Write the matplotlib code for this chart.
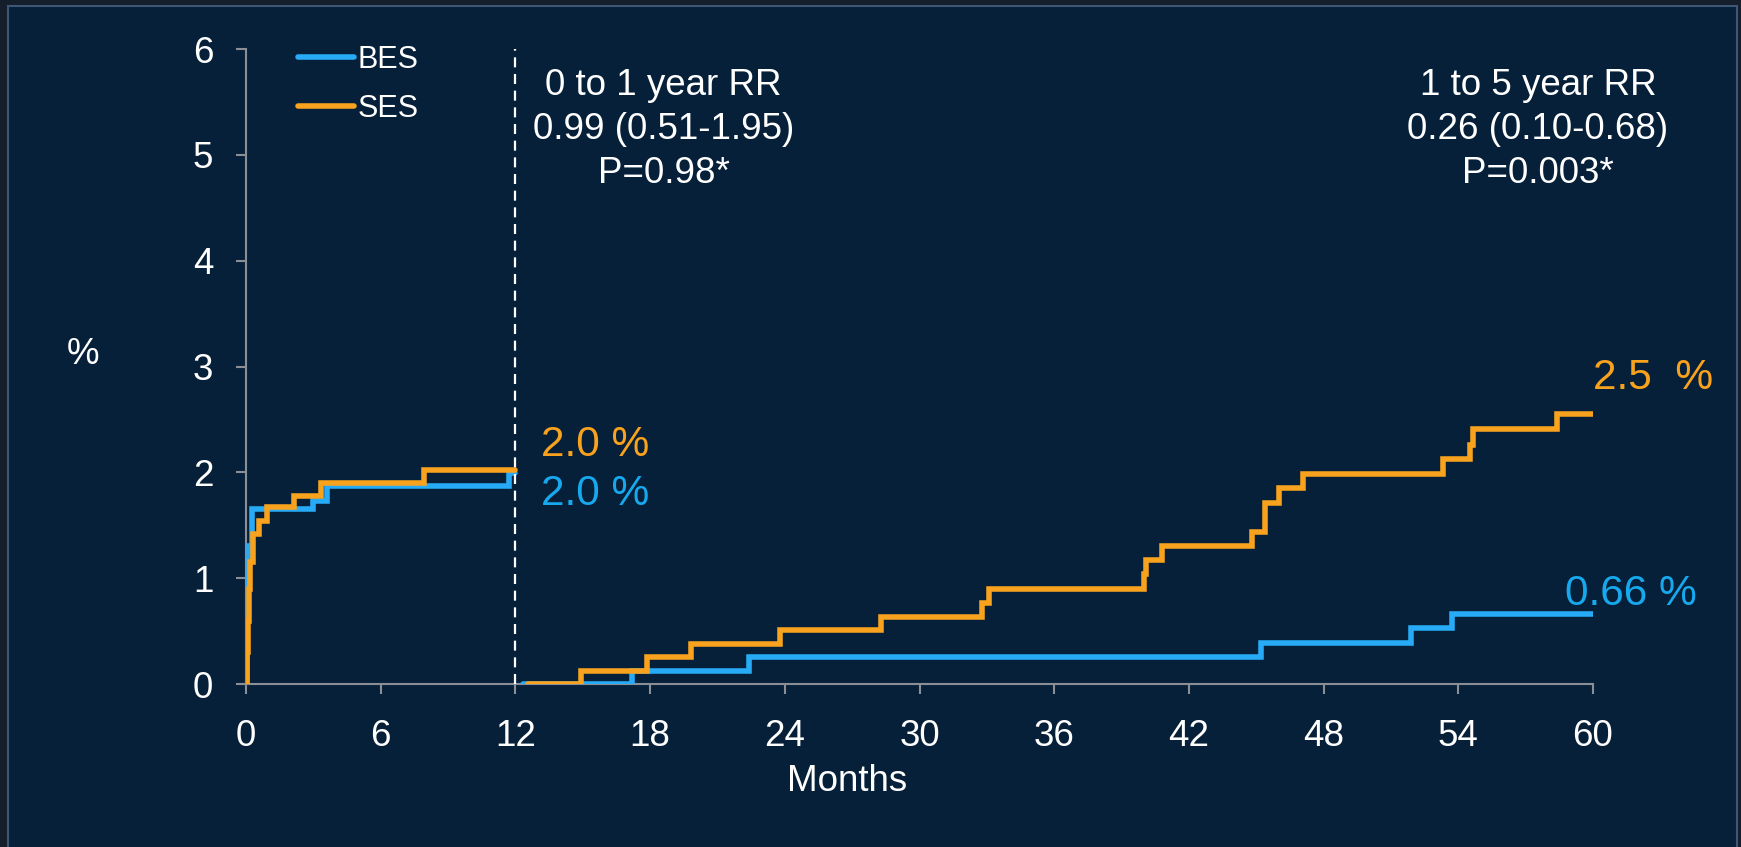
import matplotlib
matplotlib.use("Agg")
import matplotlib.pyplot as plt
from matplotlib.patches import Rectangle

plt.rcParams["font.family"] = ["Liberation Sans", "DejaVu Sans"]

# --- data (months, cumulative %) ---
bes_early_x = [0, 0.05, 0.1, 0.15, 0.25, 3.0, 3.6, 11.7, 12.0]
bes_early_y = [0, 0.6, 1.0, 1.3, 1.65, 1.73, 1.87, 1.99, 1.99]
ses_early_x = [0, 0.05, 0.1, 0.15, 0.2, 0.3, 0.6, 0.92, 2.14, 3.33, 7.93, 12.0]
ses_early_y = [0, 0.3, 0.6, 0.9, 1.15, 1.42, 1.54, 1.67, 1.78, 1.90, 2.02, 2.02]

bes_late_x = [12.35, 17.2, 22.4, 45.2, 51.9, 53.7, 60]
bes_late_y = [0, 0.126, 0.252, 0.385, 0.526, 0.66, 0.66]
ses_late_x = [12.58, 14.9, 17.85, 19.8, 23.8, 28.3, 32.8, 33.1, 40.0, 40.1, 40.8,
              44.8, 45.4, 46.0, 47.1, 53.3, 54.5, 54.65, 58.4, 60]
ses_late_y = [0, 0.126, 0.252, 0.378, 0.507, 0.636, 0.77, 0.90, 1.04, 1.17, 1.30,
              1.44, 1.71, 1.855, 1.985, 2.13, 2.26, 2.41, 2.55, 2.55]

x_ticks = list(range(0, 61, 6))
y_ticks = list(range(0, 7))
landmark = 12

blue = "#27abf6"
orange = "#f8a21d"
blue_txt = "#16a9ee"
navy = "#072039"
grey = "#8a8f96"

fig = plt.figure(figsize=(17.41, 8.47), dpi=100)
fig.patch.set_facecolor("#151e2b")
# slide panel behind the chart
fig.patches.append(Rectangle((8 / 1741, -0.01), (1737 - 8) / 1741, 1.01 - 6 / 847,
                             transform=fig.transFigure, facecolor=navy,
                             edgecolor="#3d5775", linewidth=1.5, zorder=-10))

ax = fig.add_axes([246 / 1741, 1 - 684 / 847, (1593 - 246) / 1741, (684 - 49) / 847])
ax.set_facecolor("none")

lw = 4.0
ax.step(bes_early_x, bes_early_y, where="post", color=blue, lw=lw,
        solid_capstyle="round", solid_joinstyle="miter", label="BES", zorder=3)
ax.step(ses_early_x, ses_early_y, where="post", color=orange, lw=lw,
        solid_capstyle="round", solid_joinstyle="miter", label="SES", zorder=4)
ax.step(bes_late_x, bes_late_y, where="post", color=blue, lw=lw,
        solid_capstyle="round", solid_joinstyle="miter", zorder=3)
ax.step(ses_late_x, ses_late_y, where="post", color=orange, lw=lw,
        solid_capstyle="round", solid_joinstyle="miter", zorder=4)

ax.axvline(landmark, color="white", lw=1.6, ls=(0, (4.5, 3)), zorder=5)

ax.set_xlim(0, 60)
ax.set_ylim(0, 6)
ax.set_xticks(x_ticks)
ax.set_yticks(y_ticks)
for s in ["top", "right"]:
    ax.spines[s].set_visible(False)
for s in ["left", "bottom"]:
    ax.spines[s].set_color(grey)
    ax.spines[s].set_linewidth(1.5)
ax.tick_params(colors=grey, labelcolor="white", labelsize=26.5, length=7.5,
               width=1.5, pad=16)
ax.tick_params(axis="x", pad=17.5)

fig.text(83 / 1741, 1 - 355 / 847, "%", color="white", fontsize=26.5,
         ha="center", va="center")
fig.text(847 / 1741, 1 - 781 / 847, "Months", color="white", fontsize=26.5,
         ha="center", va="center")

leg = ax.legend(loc="upper left", bbox_to_anchor=(0.018, 1.05), frameon=False,
                fontsize=22, handlelength=1.85, handletextpad=0.12,
                labelspacing=0.62, labelcolor="white")
for h in leg.legend_handles:
    h.set_linewidth(lw)
    h.set_solid_capstyle("round")

ax.text(18.6, 5.24, "0 to 1 year RR\n0.99 (0.51-1.95)\nP=0.98*", color="white",
        fontsize=26.5, ha="center", va="center", linespacing=1.33)
ax.text(57.55, 5.24, "1 to 5 year RR\n0.26 (0.10-0.68)\nP=0.003*", color="white",
        fontsize=26.5, ha="center", va="center", linespacing=1.33)

ax.text(13.14, 2.155, "2.0 %", color=orange, fontsize=30.5, va="baseline", ha="left")
ax.text(13.14, 1.69, "2.0 %", color=blue_txt, fontsize=30.5, va="baseline", ha="left")
ax.text(60.0, 2.79, "2.5  %", color=orange, fontsize=30.5, va="baseline", ha="left",
        clip_on=False)
ax.text(58.75, 0.747, "0.66 %", color=blue_txt, fontsize=30.5, va="baseline", ha="left",
        clip_on=False)

fig.savefig("out.png", dpi=100, facecolor=fig.get_facecolor())
